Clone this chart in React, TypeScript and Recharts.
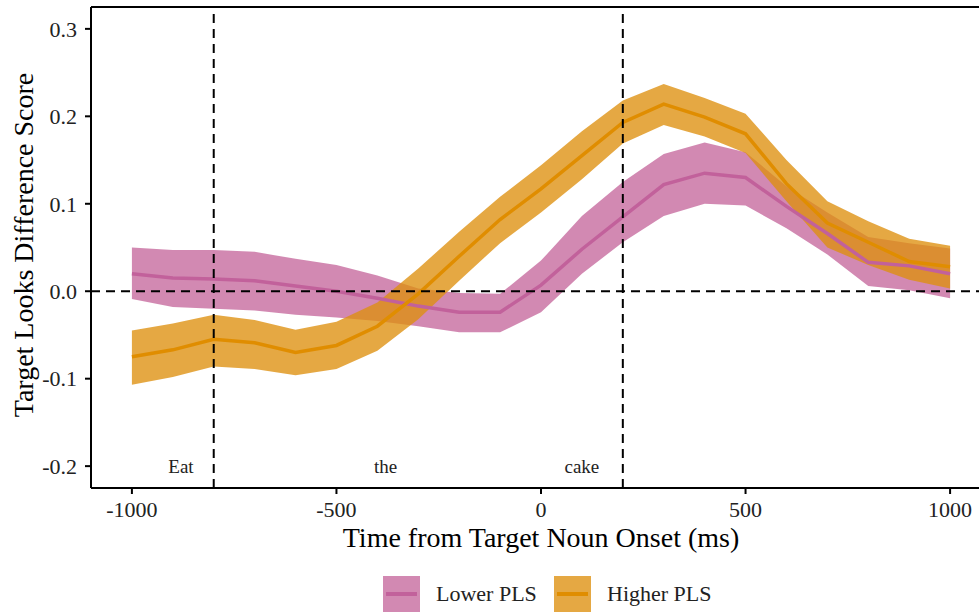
import React from "react";
import {
  ComposedChart,
  Area,
  Line,
  XAxis,
  YAxis,
  ReferenceLine,
  ReferenceDot,
} from "recharts";

const FONT = '"Liberation Serif", "Times New Roman", serif';

// time from target noun onset (ms)
const TIMES = [
  -1000, -900, -800, -700, -600, -500, -400, -300, -200, -100, 0, 100, 200,
  300, 400, 500, 600, 700, 800, 900, 1000,
];

// Lower PLS
const LOWER_MEAN = [
  0.02, 0.015, 0.014, 0.012, 0.006, 0.0, -0.008, -0.017, -0.024, -0.024, 0.007,
  0.048, 0.085, 0.122, 0.135, 0.13, 0.097, 0.066, 0.033, 0.029, 0.02,
];
const LOWER_LO = [
  -0.009, -0.018, -0.02, -0.022, -0.027, -0.03, -0.034, -0.04, -0.047, -0.047,
  -0.024, 0.02, 0.056, 0.086, 0.1, 0.098, 0.072, 0.042, 0.006, 0.001, -0.008,
];
const LOWER_HI = [
  0.05, 0.047, 0.047, 0.045, 0.037, 0.03, 0.018, 0.003, -0.002, -0.003, 0.035,
  0.086, 0.125, 0.157, 0.17, 0.159, 0.12, 0.09, 0.062, 0.055, 0.049,
];

// Higher PLS
const HIGHER_MEAN = [
  -0.075, -0.067, -0.055, -0.059, -0.07, -0.062, -0.04, -0.003, 0.04, 0.082,
  0.117, 0.155, 0.193, 0.214, 0.199, 0.18, 0.123, 0.078, 0.056, 0.034, 0.028,
];
const HIGHER_LO = [
  -0.107, -0.098, -0.086, -0.089, -0.096, -0.089, -0.068, -0.032, 0.012, 0.055,
  0.09, 0.128, 0.169, 0.19, 0.177, 0.158, 0.103, 0.05, 0.03, 0.013, 0.003,
];
const HIGHER_HI = [
  -0.045, -0.037, -0.027, -0.033, -0.044, -0.035, -0.013, 0.026, 0.068, 0.108,
  0.144, 0.183, 0.218, 0.237, 0.221, 0.203, 0.15, 0.103, 0.08, 0.06, 0.052,
];

const X_TICKS = [-1000, -500, 0, 500, 1000];
const Y_TICKS = [-0.2, -0.1, 0, 0.1, 0.2, 0.3];

// word onsets (dashed) and word labels
const WORD_ONSETS = [-800, 200];
const WORDS = ["Eat", "the", "cake"];
const WORD_X = [-880, -380, 100];
const WORD_Y = -0.2;

const PINK_FILL = "#CC79A7";
const PINK_LINE = "#C2619B";
const ORANGE_FILL = "#DE8F0E";
const ORANGE_LINE = "#E08D00";

const rows = TIMES.map((t, i) => ({
  t,
  lowerMean: LOWER_MEAN[i],
  lowerBand: [LOWER_LO[i], LOWER_HI[i]],
  higherMean: HIGHER_MEAN[i],
  higherBand: [HIGHER_LO[i], HIGHER_HI[i]],
}));

function LegendKey({
  fill,
  opacity,
  line,
}: {
  fill: string;
  opacity: number;
  line: string;
}) {
  return (
    <svg width={37} height={36} style={{ display: "block" }}>
      <rect x={0} y={0} width={37} height={36} fill={fill} fillOpacity={opacity} />
      <line x1={3} x2={34} y1={18} y2={18} stroke={line} strokeWidth={4} />
    </svg>
  );
}

export default function App() {
  const axisStroke = { stroke: "#000", strokeWidth: 2 };
  const tickStyle = { fill: "#222", fontSize: 22, fontFamily: FONT };
  const legendText = {
    position: "absolute" as const,
    top: 580,
    fontFamily: FONT,
    fontSize: 22,
    lineHeight: "28px",
    color: "#222",
    whiteSpace: "nowrap" as const,
  };

  return (
    <div
      style={{
        position: "fixed",
        left: 0,
        top: 0,
        width: 979,
        height: 613,
        overflow: "hidden",
        background: "#fff",
        fontFamily: FONT,
      }}
    >
      <ComposedChart
        width={1000}
        height={613}
        data={rows}
        margin={{ top: 7, right: 9, bottom: 0, left: 0 }}
      >
        <XAxis
          dataKey="t"
          type="number"
          domain={[-1100, 1100]}
          ticks={X_TICKS}
          interval={0}
          allowDataOverflow
          height={125}
          tickSize={6}
          tickMargin={7}
          axisLine={axisStroke}
          tickLine={axisStroke}
          tick={tickStyle}
          label={{
            content: () => (
              <text
                x={541}
                y={547}
                textAnchor="middle"
                fontFamily={FONT}
                fontSize={28}
                fill="#000"
              >
                Time from Target Noun Onset (ms)
              </text>
            ),
          }}
        />
        <YAxis
          type="number"
          domain={[-0.225, 0.325]}
          ticks={Y_TICKS}
          interval={0}
          allowDataOverflow
          width={91}
          tickSize={6}
          tickMargin={8}
          axisLine={axisStroke}
          tickLine={axisStroke}
          tick={tickStyle}
          tickFormatter={(v: number) => v.toFixed(1)}
          label={{
            content: () => (
              <text
                x={33}
                y={245}
                transform="rotate(-90 33 245)"
                textAnchor="middle"
                fontFamily={FONT}
                fontSize={28}
                fill="#000"
              >
                Target Looks Difference Score
              </text>
            ),
          }}
        />

        {/* ribbons */}
        <Area
          dataKey="lowerBand"
          type="linear"
          stroke="none"
          fill={PINK_FILL}
          fillOpacity={0.88}
          isAnimationActive={false}
        />
        <Area
          dataKey="higherBand"
          type="linear"
          stroke="none"
          fill={ORANGE_FILL}
          fillOpacity={0.78}
          isAnimationActive={false}
        />

        {/* means */}
        <Line
          dataKey="lowerMean"
          type="linear"
          stroke={PINK_LINE}
          strokeWidth={3.5}
          dot={false}
          isAnimationActive={false}
        />
        <Line
          dataKey="higherMean"
          type="linear"
          stroke={ORANGE_LINE}
          strokeWidth={3.5}
          dot={false}
          isAnimationActive={false}
        />

        {/* panel top border */}
        <ReferenceLine y={0.325} stroke="#000" strokeWidth={2} />

        <ReferenceLine y={0} stroke="#000" strokeWidth={2} strokeDasharray="9 6" />
        {WORD_ONSETS.map((x) => (
          <ReferenceLine
            key={x}
            x={x}
            stroke="#000"
            strokeWidth={2}
            strokeDasharray="9 6"
          />
        ))}

        {WORDS.map((w, i) => (
          <ReferenceDot
            key={w}
            x={WORD_X[i]}
            y={WORD_Y}
            r={0}
            fill="none"
            stroke="none"
            label={{
              value: w,
              position: "center",
              fill: "#222",
              fontSize: 19,
              fontFamily: FONT,
            }}
          />
        ))}
      </ComposedChart>

      {/* legend */}
      <div style={{ position: "absolute", left: 383, top: 576 }}>
        <LegendKey fill={PINK_FILL} opacity={0.88} line={PINK_LINE} />
      </div>
      <div style={{ ...legendText, left: 436 }}>Lower PLS</div>
      <div style={{ position: "absolute", left: 554, top: 576 }}>
        <LegendKey fill={ORANGE_FILL} opacity={0.78} line={ORANGE_LINE} />
      </div>
      <div style={{ ...legendText, left: 607 }}>Higher PLS</div>
    </div>
  );
}
